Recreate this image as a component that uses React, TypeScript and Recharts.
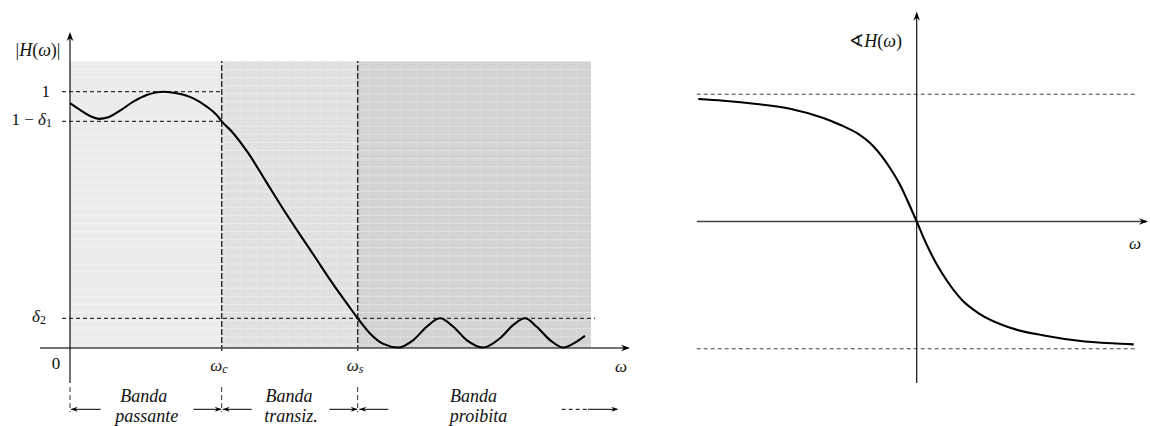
import React from 'react';
import { ComposedChart, Line, XAxis, YAxis, ReferenceArea, ReferenceLine, ReferenceDot } from 'recharts';

// magnitude response |H(w)|
const magW = [0, 0.1, 0.2, 0.293, 0.383, 0.5, 0.633, 0.767, 0.94, 1.067, 1.233, 1.367, 1.467, 1.517, 1.617, 1.783, 1.95, 2.117, 2.283, 2.45, 2.617, 2.783, 2.877, 3.0, 3.133, 3.283, 3.433, 3.567, 3.7, 3.833, 3.967, 4.133, 4.3, 4.433, 4.55, 4.667, 4.8, 4.933, 5.067, 5.15];
const magH = [0.955, 0.929, 0.905, 0.894, 0.9, 0.926, 0.961, 0.987, 1.0, 0.994, 0.974, 0.942, 0.909, 0.884, 0.845, 0.76, 0.656, 0.551, 0.452, 0.355, 0.257, 0.166, 0.116, 0.057, 0.016, 0.002, 0.031, 0.083, 0.116, 0.083, 0.031, 0.002, 0.038, 0.09, 0.116, 0.083, 0.031, 0.002, 0.025, 0.047];

// band edges and tolerance levels
const wc = 1.517;
const ws = 2.877;
const wEnd = 5.21;
const one = 1;
const oneMinusD1 = 0.884;
const d2 = 0.116;
const shadeTop = 1.12;

// phase response (radians)
const phW = [-4.368, -3.868, -3.2, -2.534, -1.868, -1.534, -1.2, -0.868, -0.534, -0.334, -0.134, 0, 0.172, 0.372, 0.572, 0.906, 1.24, 1.906, 2.572, 3.24, 3.906, 4.34];
const phV = [1.513, 1.492, 1.451, 1.393, 1.278, 1.195, 1.093, 0.929, 0.661, 0.454, 0.188, 0, -0.249, -0.496, -0.701, -0.969, -1.134, -1.319, -1.41, -1.472, -1.504, -1.517];
const halfPi = Math.PI / 2;

const magData = magW.map((w, i) => ({ w, h: magH[i] }));
const phData = phW.map((w, i) => ({ w, p: phV[i] }));

const FONT = "'Liberation Serif', 'DejaVu Serif', serif";

const arrowHead = (angle: number, len = 9, half = 3.3) => (p: any) => (
  <path
    d={`M0,0 L${-len},${-half} L${-len * 0.68},0 L${-len},${half} Z`}
    transform={`translate(${p.cx},${p.cy}) rotate(${angle})`}
    fill="#000"
  />
);

const tag = (x: number, y: number, content: React.ReactNode, anchor = 'middle', size = 17, baseline = 'central') => (
  <ReferenceDot
    x={x}
    y={y}
    r={0}
    shape={(p: any) => (
      <text x={p.cx} y={p.cy} textAnchor={anchor} dominantBaseline={baseline} fontSize={size} fontFamily={FONT} fill="#111">
        {content}
      </text>
    )}
  />
);

// two-line italic band caption, first line baseline at (x, y)
const caption = (x: number, y: number, l1: string, l2: string, dx2: number) => (
  <ReferenceDot
    x={x}
    y={y}
    r={0}
    shape={(p: any) => (
      <text x={p.cx} y={p.cy} textAnchor="middle" fontSize={18} fontStyle="italic" fontFamily={FONT} fill="#111">
        <tspan x={p.cx}>{l1}</tspan>
        <tspan x={p.cx + dx2} dy={20}>{l2}</tspan>
      </text>
    )}
  />
);

const it = (s: string) => <tspan fontStyle="italic">{s}</tspan>;
const sub = (s: string, italic = false) => (
  <tspan fontSize={12} dy={4} fontStyle={italic ? 'italic' : 'normal'}>{s}</tspan>
);

const bandY = -0.2392;
const captionY = -0.2126;
const dashStyle = { stroke: '#333', strokeWidth: 1.2, strokeDasharray: '4 3' };

function MagnitudeChart() {
  return (
    <ComposedChart width={650} height={426} data={magData} margin={{ top: 0, right: 0, bottom: 0, left: 0 }}>
      <defs>
        <pattern id="tex" patternUnits="userSpaceOnUse" x={0} y={61} width={16} height={8.1}>
          <rect x={0} y={0} width={16} height={0.9} fill="#fff" fillOpacity={0.35} />
          <rect x={0} y={0} width={0.9} height={8.1} fill="#fff" fillOpacity={0.15} />
        </pattern>
      </defs>
      <XAxis type="number" dataKey="w" domain={[-0.7, 5.8]} hide allowDataOverflow />
      <YAxis type="number" domain={[-0.3043, 1.3578]} hide allowDataOverflow />

      <ReferenceArea x1={0} x2={wc} y1={0} y2={shadeTop} fill="#ebebeb" fillOpacity={1} stroke="none" />
      <ReferenceArea x1={wc} x2={ws} y1={0} y2={shadeTop} fill="#e1e1e1" fillOpacity={1} stroke="none" />
      <ReferenceArea x1={ws} x2={wEnd} y1={0} y2={shadeTop} fill="#d3d3d3" fillOpacity={1} stroke="none" />
      <ReferenceArea x1={0} x2={wEnd} y1={0} y2={shadeTop} fill="url(#tex)" fillOpacity={1} stroke="none" />

      {/* tolerance levels */}
      <ReferenceLine segment={[{ x: -0.08, y: one }, { x: wc, y: one }]} {...dashStyle} />
      <ReferenceLine segment={[{ x: -0.08, y: oneMinusD1 }, { x: wc, y: oneMinusD1 }]} {...dashStyle} />
      <ReferenceLine segment={[{ x: -0.08, y: d2 }, { x: 5.25, y: d2 }]} {...dashStyle} />

      {/* band edges */}
      <ReferenceLine segment={[{ x: wc, y: -0.012 }, { x: wc, y: shadeTop }]} stroke="#333" strokeWidth={1.5} strokeDasharray="6 2" />
      <ReferenceLine segment={[{ x: ws, y: -0.012 }, { x: ws, y: shadeTop }]} stroke="#333" strokeWidth={1.5} strokeDasharray="6 2" />
      <ReferenceLine segment={[{ x: 0, y: -0.1522 }, { x: 0, y: -0.25 }]} stroke="#333" strokeWidth={1} strokeDasharray="5 3" />
      <ReferenceLine segment={[{ x: wc, y: -0.1522 }, { x: wc, y: -0.25 }]} stroke="#333" strokeWidth={1} strokeDasharray="5 3" />
      <ReferenceLine segment={[{ x: ws, y: -0.1522 }, { x: ws, y: -0.25 }]} stroke="#333" strokeWidth={1} strokeDasharray="5 3" />

      {/* axes */}
      <ReferenceLine segment={[{ x: -0.3, y: 0 }, { x: 5.58, y: 0 }]} stroke="#444" strokeWidth={1.3} />
      <ReferenceLine segment={[{ x: 0, y: -0.1366 }, { x: 0, y: 1.22 }]} stroke="#111" strokeWidth={1.2} />
      <ReferenceDot x={5.6} y={0} r={0} shape={arrowHead(0)} />
      <ReferenceDot x={0} y={1.2329} r={0} shape={arrowHead(-90)} />

      <Line type="monotone" dataKey="h" stroke="#000" strokeWidth={2.1} dot={false} activeDot={false} isAnimationActive={false} />

      {/* band arrows */}
      <ReferenceLine segment={[{ x: 0.01, y: bandY }, { x: 0.307, y: bandY }]} stroke="#000" strokeWidth={1} />
      <ReferenceLine segment={[{ x: 1.233, y: bandY }, { x: 1.51, y: bandY }]} stroke="#000" strokeWidth={1} />
      <ReferenceLine segment={[{ x: 1.527, y: bandY }, { x: 1.817, y: bandY }]} stroke="#000" strokeWidth={1} />
      <ReferenceLine segment={[{ x: 2.593, y: bandY }, { x: 2.87, y: bandY }]} stroke="#000" strokeWidth={1} />
      <ReferenceLine segment={[{ x: 2.893, y: bandY }, { x: 3.183, y: bandY }]} stroke="#000" strokeWidth={1} />
      <ReferenceLine segment={[{ x: 4.917, y: bandY }, { x: 5.18, y: bandY }]} stroke="#000" strokeWidth={1} strokeDasharray="4 3" />
      <ReferenceLine segment={[{ x: 5.18, y: bandY }, { x: 5.47, y: bandY }]} stroke="#000" strokeWidth={1} />
      <ReferenceDot x={0.007} y={bandY} r={0} shape={arrowHead(180, 7, 2.5)} />
      <ReferenceDot x={wc} y={bandY} r={0} shape={arrowHead(0, 7, 2.5)} />
      <ReferenceDot x={1.527} y={bandY} r={0} shape={arrowHead(180, 7, 2.5)} />
      <ReferenceDot x={ws} y={bandY} r={0} shape={arrowHead(0, 7, 2.5)} />
      <ReferenceDot x={2.893} y={bandY} r={0} shape={arrowHead(180, 7, 2.5)} />
      <ReferenceDot x={5.483} y={bandY} r={0} shape={arrowHead(0, 7, 2.5)} />

      {/* labels */}
      {tag(-0.32, 1.1646, <>|{it('H')}({it('ω')})|</>, 'middle', 18)}
      {tag(-0.2, one, '1', 'end')}
      {tag(-0.18, oneMinusD1 + 0.008, <>1 − {it('δ')}{sub('1')}</>, 'end')}
      {tag(-0.24, d2 + 0.008, <>{it('δ')}{sub('2')}</>, 'end')}
      {tag(-0.14, -0.0585, '0', 'middle')}
      {tag(1.49, -0.065, <>{it('ω')}{sub('c', true)}</>, 'middle')}
      {tag(2.85, -0.065, <>{it('ω')}{sub('s', true)}</>, 'middle')}
      {tag(5.51, -0.07, it('ω'), 'middle')}

      {caption(0.737, captionY, 'Banda', 'passante', 3)}
      {caption(2.19, captionY, 'Banda', 'transiz.', 2)}
      {caption(4.035, captionY, 'Banda', 'proibita', 5)}
    </ComposedChart>
  );
}

function PhaseChart() {
  return (
    <ComposedChart width={500} height={426} data={phData} margin={{ top: 0, right: 0, bottom: 0, left: 0 }}>
      <XAxis type="number" dataKey="w" domain={[-5.334, 4.666]} hide allowDataOverflow />
      <YAxis type="number" domain={[-2.5254, 2.7353]} hide allowDataOverflow />

      <ReferenceLine segment={[{ x: -4.4, y: halfPi }, { x: 4.4, y: halfPi }]} stroke="#444" strokeWidth={1.1} strokeDasharray="4 3" />
      <ReferenceLine segment={[{ x: -4.4, y: -halfPi }, { x: 4.4, y: -halfPi }]} stroke="#444" strokeWidth={1.1} strokeDasharray="4 3" />

      <ReferenceLine segment={[{ x: -4.4, y: 0 }, { x: 4.6, y: 0 }]} stroke="#444" strokeWidth={1.3} />
      <ReferenceLine segment={[{ x: 0, y: -1.9944 }, { x: 0, y: 2.57 }]} stroke="#111" strokeWidth={1.2} />
      <ReferenceDot x={4.626} y={0} r={0} shape={arrowHead(0)} />
      <ReferenceDot x={0} y={2.5908} r={0} shape={arrowHead(-90)} />

      <Line type="monotone" dataKey="p" stroke="#000" strokeWidth={2.1} dot={false} activeDot={false} isAnimationActive={false} />

      {tag(-0.294, 2.229, <>∢{it('H')}({it('ω')})</>, 'end', 18)}
      {tag(4.366, -0.2655, it('ω'), 'middle')}
    </ComposedChart>
  );
}

export default function App() {
  return (
    <div style={{ position: 'absolute', left: 0, top: 0, width: 1150, height: 426, background: '#fff' }}>
      <div style={{ position: 'absolute', left: 0, top: 0 }}>
        <MagnitudeChart />
      </div>
      <div style={{ position: 'absolute', left: 650, top: 0 }}>
        <PhaseChart />
      </div>
    </div>
  );
}
